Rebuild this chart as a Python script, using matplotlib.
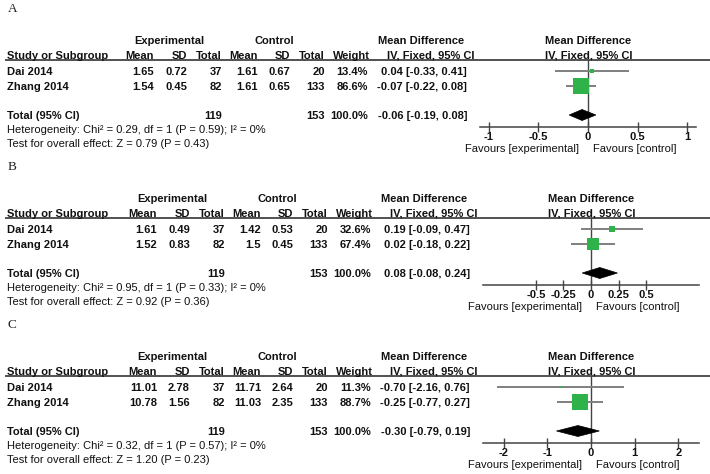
import matplotlib
matplotlib.use("Agg")
import matplotlib.pyplot as plt
from matplotlib.patches import Polygon

W, H = 710, 474

# ---------------- data ----------------
panel_labels = ["A", "B", "C"]
studies = ["Dai 2014", "Zhang 2014"]
exp_mean = [[1.65, 1.54], [1.61, 1.52], [11.01, 10.78]]
exp_sd = [[0.72, 0.45], [0.49, 0.83], [2.78, 1.56]]
exp_n = [37, 82]
ctl_mean = [[1.61, 1.61], [1.42, 1.5], [11.71, 11.03]]
ctl_sd = [[0.67, 0.65], [0.53, 0.45], [2.64, 2.35]]
ctl_n = [20, 133]
weights = [[13.4, 86.6], [32.6, 67.4], [11.3, 88.7]]
md = [[0.04, -0.07], [0.19, 0.02], [-0.70, -0.25]]
ci_lo = [[-0.33, -0.22], [-0.09, -0.18], [-2.16, -0.77]]
ci_hi = [[0.41, 0.08], [0.47, 0.22], [0.76, 0.27]]
tot_md = [-0.06, 0.08, -0.30]
tot_lo = [-0.19, -0.08, -0.79]
tot_hi = [0.08, 0.24, 0.19]
chi2 = ["0.29", "0.95", "0.32"]
chi_p = ["0.59", "0.33", "0.57"]
zval = ["0.79", "0.92", "1.20"]
z_p = ["0.43", "0.36", "0.23"]
tick_vals = [[-1, -0.5, 0, 0.5, 1], [-0.5, -0.25, 0, 0.25, 0.5], [-2, -1, 0, 1, 2]]
tick_labels = [["-1", "-0.5", "0", "0.5", "1"],
               ["-0.5", "-0.25", "0", "0.25", "0.5"],
               ["-2", "-1", "0", "1", "2"]]
xlims = [(-1.09, 1.09), (-0.98, 0.98), (-2.47, 2.47)]

# ---------------- layout / style ----------------
FONT = "Liberation Sans"
FS = 8
GREEN = "#2fb24a"
GRAY = "#7f7f7f"
DARK = "#444444"

fig = plt.figure(figsize=(7.1, 4.74), dpi=100)
ax = fig.add_axes([0, 0, 1, 1])
ax.set_xlim(0, W)
ax.set_ylim(H, 0)
ax.axis("off")


def txt(x, y, s, ha="left", bold=True, size=FS, family=FONT, color="#111111"):
    ax.text(x, y + 3.8, s, ha=ha, va="baseline", fontsize=size, family=family,
            fontweight="bold" if bold else "normal", color=color)


dys = [0, 158, 316]
dxs = [-3, 0, 0]

for p in range(3):
    dy, dx = dys[p], dxs[p]
    # panel label
    ax.text(8, 7 + dy + 4.5, panel_labels[p], ha="left", va="baseline",
            fontsize=9.5, family="Liberation Serif", color="#222222")

    cols = [157 + dx, 190 + dx, 225 + dx, 261 + dx, 293 + dx, 328 + dx]
    wcol = 373 + dx
    ecol = 472 + dx
    zero_px = 591 + dx

    # group headers
    txt(172 + dx, 40 + dy, "Experimental", ha="center")
    txt(277 + dx, 40 + dy, "Control", ha="center")
    txt(424 + dx, 40 + dy, "Mean Difference", ha="center")
    txt(zero_px, 40 + dy, "Mean Difference", ha="center")

    # column headers
    y_h = 55 + dy
    txt(7, y_h, "Study or Subgroup")
    for c, s in zip(cols, ["Mean", "SD", "Total", "Mean", "SD", "Total"]):
        txt(c, y_h, s, ha="right")
    txt(wcol, y_h, "Weight", ha="right")
    txt(434 + dx, y_h, "IV, Fixed, 95% CI", ha="center")
    txt(zero_px + 1, y_h, "IV, Fixed, 95% CI", ha="center")

    line_y = 59.5 + dy
    ax.plot([5, W], [line_y, line_y], color="#333333", lw=1.2, solid_capstyle="butt")

    row_y = [71 + dy, 86 + dy]
    tot_y = 115 + dy
    for i in range(2):
        y = row_y[i]
        txt(7, y, studies[i])
        vals = [f"{exp_mean[p][i]:g}", f"{exp_sd[p][i]:g}", f"{exp_n[i]}",
                f"{ctl_mean[p][i]:g}", f"{ctl_sd[p][i]:g}", f"{ctl_n[i]}"]
        for c, s in zip(cols, vals):
            txt(c, y, s, ha="right")
        txt(wcol - 2, y, f"{weights[p][i]:.1f}%", ha="right")
        txt(ecol - 2, y, f"{md[p][i]:.2f} [{ci_lo[p][i]:.2f}, {ci_hi[p][i]:.2f}]", ha="right")

    txt(7, tot_y, "Total (95% CI)")
    txt(cols[2], tot_y, f"{sum(exp_n)}", ha="right")
    txt(cols[5], tot_y, f"{sum(ctl_n)}", ha="right")
    txt(wcol - 2, tot_y, "100.0%", ha="right")
    txt(ecol - 2, tot_y, f"{tot_md[p]:.2f} [{tot_lo[p]:.2f}, {tot_hi[p]:.2f}]", ha="right")
    txt(7, 129 + dy, f"Heterogeneity: Chi\u00b2 = {chi2[p]}, df = 1 (P = {chi_p[p]}); I\u00b2 = 0%", bold=False)
    txt(7, 143 + dy, f"Test for overall effect: Z = {zval[p]} (P = {z_p[p]})", bold=False)

    # forest axes
    fx0, fx1 = 483 + dx, 699 + dx
    top, bot = line_y, 127 + dy
    fa = fig.add_axes([fx0 / W, 1 - bot / H, (fx1 - fx0) / W, (bot - top) / H])
    fa.set_xlim(*xlims[p])
    fa.set_ylim(bot, top)
    fa.patch.set_alpha(0)
    for s in ["top", "left", "right"]:
        fa.spines[s].set_visible(False)
    fa.spines["bottom"].set_color(DARK)
    fa.spines["bottom"].set_linewidth(1.1)
    fa.set_yticks([])
    fa.set_xticks(tick_vals[p])
    fa.set_xticklabels(tick_labels[p])
    fa.tick_params(axis="x", direction="inout", length=7, width=1.0, color=DARK,
                   pad=0.3, labelsize=FS, labelcolor="#111111")
    for lab in fa.get_xticklabels():
        lab.set_family(FONT)
        lab.set_fontweight("bold")
    fa.axvline(0, color=DARK, lw=1.0, zorder=1)

    for i in range(2):
        y = row_y[i]
        fa.plot([ci_lo[p][i], ci_hi[p][i]], [y, y], color=GRAY, lw=1.4, zorder=2,
                solid_capstyle="butt")
        side_px = 0.17 * weights[p][i] + 1.0
        fa.plot([md[p][i]], [y], marker="s", ms=side_px * 0.72, color=GREEN,
                mec=GREEN, mew=0, ls="none", zorder=3)
    dia = Polygon([(tot_lo[p], tot_y), (tot_md[p], tot_y - 5.5),
                   (tot_hi[p], tot_y), (tot_md[p], tot_y + 5.5)],
                  closed=True, facecolor="black", edgecolor="black", lw=0.5, zorder=3)
    fa.add_patch(dia)

    # favours labels
    txt(zero_px - 9, 148 + dy, "Favours [experimental]", ha="right", bold=False)
    txt(zero_px + 5, 148 + dy, "Favours [control]", ha="left", bold=False)

fig.savefig("out.png", dpi=100)
